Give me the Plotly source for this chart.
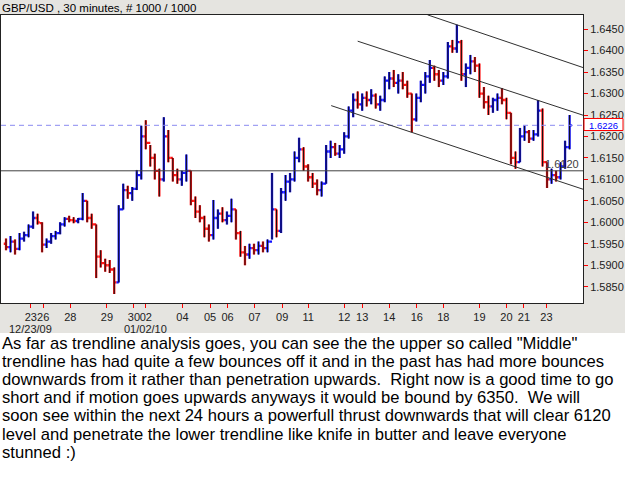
import plotly.graph_objects as go

# ---------------- data ----------------
# Each bar below summarises ~8 thirty-minute bars of GBP/USD
bar_open = [
    1.5950, 1.5942, 1.5955, 1.5938, 1.5962, 1.5970, 1.5990, 1.6010, 1.5998, 1.5948,
    1.5955, 1.5968, 1.5975, 1.5995, 1.6008, 1.6005, 1.6003, 1.6008, 1.6050, 1.6010,
    1.5995, 1.5920, 1.5905, 1.5900, 1.5890, 1.5860, 1.6030, 1.6075, 1.6068, 1.6078,
    1.6110, 1.6200, 1.6185, 1.6150, 1.6120, 1.6100, 1.6200, 1.6150, 1.6110, 1.6100,
    1.6115, 1.6120, 1.6050, 1.6025, 1.6010, 1.5985, 1.5970, 1.6010, 1.6020, 1.6005,
    1.6015, 1.6030, 1.5975, 1.5930, 1.5925, 1.5940, 1.5935, 1.5945, 1.5940, 1.5955,
    1.6030, 1.5980, 1.6070, 1.6095, 1.6100, 1.6150, 1.6170, 1.6130, 1.6105, 1.6090,
    1.6075, 1.6090, 1.6165, 1.6175, 1.6160, 1.6170, 1.6200, 1.6260, 1.6285, 1.6275,
    1.6290, 1.6285, 1.6295, 1.6275, 1.6285, 1.6330, 1.6335, 1.6325, 1.6330, 1.6320,
    1.6300, 1.6240, 1.6290, 1.6320, 1.6340, 1.6360, 1.6345, 1.6330, 1.6340, 1.6410,
    1.6405, 1.6420, 1.6345, 1.6360, 1.6375, 1.6365, 1.6300, 1.6280, 1.6270, 1.6285,
    1.6290, 1.6285, 1.6255, 1.6150, 1.6140, 1.6200, 1.6210, 1.6195, 1.6205, 1.6260,
    1.6140, 1.6100, 1.6110, 1.6105, 1.6130, 1.6175,
]
bar_high = [
    1.5962, 1.5968, 1.5960, 1.5975, 1.5978, 1.5995, 1.6025, 1.6020, 1.6000, 1.5962,
    1.5975, 1.5980, 1.6000, 1.6012, 1.6015, 1.6012, 1.6010, 1.6068, 1.6050, 1.6020,
    1.5995, 1.5935, 1.5915, 1.5912, 1.5895, 1.6040, 1.6090, 1.6085, 1.6082, 1.6122,
    1.6225, 1.6238, 1.6180, 1.6160, 1.6125, 1.6245, 1.6215, 1.6150, 1.6125, 1.6120,
    1.6158, 1.6120, 1.6060, 1.6040, 1.6015, 1.5995, 1.6052, 1.6030, 1.6035, 1.6025,
    1.6055, 1.6030, 1.5980, 1.5945, 1.5950, 1.5950, 1.5955, 1.5955, 1.5960, 1.6115,
    1.6030, 1.6080, 1.6110, 1.6115, 1.6165, 1.6197, 1.6175, 1.6135, 1.6115, 1.6100,
    1.6095, 1.6180, 1.6190, 1.6185, 1.6180, 1.6210, 1.6270, 1.6300, 1.6305, 1.6300,
    1.6305, 1.6310, 1.6300, 1.6295, 1.6340, 1.6350, 1.6355, 1.6345, 1.6350, 1.6330,
    1.6300, 1.6300, 1.6330, 1.6350, 1.6378, 1.6365, 1.6355, 1.6350, 1.6420, 1.6425,
    1.6460, 1.6425, 1.6370, 1.6390, 1.6385, 1.6370, 1.6315, 1.6295, 1.6290, 1.6300,
    1.6313, 1.6290, 1.6255, 1.6165, 1.6220, 1.6225, 1.6215, 1.6215, 1.6285, 1.6265,
    1.6140, 1.6125, 1.6120, 1.6140, 1.6190, 1.6250,
]
bar_low = [
    1.5935, 1.5930, 1.5925, 1.5935, 1.5955, 1.5965, 1.5985, 1.5995, 1.5930, 1.5940,
    1.5950, 1.5960, 1.5972, 1.5990, 1.6000, 1.5998, 1.5998, 1.6005, 1.6000, 1.5985,
    1.5870, 1.5895, 1.5885, 1.5882, 1.5833, 1.5860, 1.6030, 1.6055, 1.6050, 1.6075,
    1.6100, 1.6170, 1.6130, 1.6100, 1.6060, 1.6095, 1.6140, 1.6095, 1.6090, 1.6085,
    1.6095, 1.6040, 1.6010, 1.6000, 1.5965, 1.5955, 1.5960, 1.5985, 1.6000, 1.5995,
    1.6000, 1.5960, 1.5920, 1.5900, 1.5915, 1.5925, 1.5925, 1.5930, 1.5930, 1.5960,
    1.5965, 1.5975, 1.6050, 1.6070, 1.6095, 1.6140, 1.6120, 1.6095, 1.6080, 1.6063,
    1.6060, 1.6090, 1.6150, 1.6155, 1.6150, 1.6160, 1.6195, 1.6245, 1.6265, 1.6260,
    1.6270, 1.6275, 1.6265, 1.6260, 1.6280, 1.6310, 1.6315, 1.6300, 1.6310, 1.6290,
    1.6210, 1.6235, 1.6280, 1.6300, 1.6325, 1.6330, 1.6315, 1.6320, 1.6335, 1.6395,
    1.6395, 1.6330, 1.6315, 1.6345, 1.6350, 1.6290, 1.6265, 1.6250, 1.6255, 1.6260,
    1.6275, 1.6240, 1.6135, 1.6125, 1.6140, 1.6190, 1.6185, 1.6190, 1.6200, 1.6130,
    1.6080, 1.6090, 1.6095, 1.6100, 1.6125, 1.6170,
]
bar_close = [
    1.5942, 1.5955, 1.5938, 1.5962, 1.5970, 1.5990, 1.6010, 1.6000, 1.5948, 1.5955,
    1.5968, 1.5975, 1.5995, 1.6008, 1.6005, 1.6003, 1.6008, 1.6050, 1.6010, 1.5995,
    1.5920, 1.5905, 1.5900, 1.5890, 1.5860, 1.6030, 1.6075, 1.6068, 1.6078, 1.6110,
    1.6200, 1.6185, 1.6150, 1.6120, 1.6100, 1.6200, 1.6150, 1.6110, 1.6100, 1.6115,
    1.6120, 1.6050, 1.6025, 1.6010, 1.5985, 1.5970, 1.6010, 1.6020, 1.6005, 1.6015,
    1.6030, 1.5975, 1.5930, 1.5925, 1.5940, 1.5935, 1.5945, 1.5940, 1.5955, 1.6030,
    1.5980, 1.6070, 1.6095, 1.6100, 1.6150, 1.6170, 1.6130, 1.6105, 1.6090, 1.6075,
    1.6090, 1.6165, 1.6175, 1.6160, 1.6170, 1.6200, 1.6260, 1.6285, 1.6275, 1.6290,
    1.6285, 1.6295, 1.6275, 1.6285, 1.6330, 1.6335, 1.6325, 1.6330, 1.6320, 1.6300,
    1.6240, 1.6290, 1.6320, 1.6340, 1.6360, 1.6345, 1.6330, 1.6340, 1.6410, 1.6405,
    1.6420, 1.6345, 1.6360, 1.6375, 1.6365, 1.6300, 1.6280, 1.6270, 1.6285, 1.6290,
    1.6285, 1.6255, 1.6150, 1.6140, 1.6200, 1.6210, 1.6195, 1.6205, 1.6260, 1.6140,
    1.6100, 1.6110, 1.6105, 1.6130, 1.6175, 1.6226,
]
bars_per_point = 8  # thirty-minute bars summarised by each entry

# x-axis day labels and the bar number where each sits
day_labels = ["23", "26", "28", "29", "30", "02", "04", "05", "06", "07", "09",
              "11", "12", "13", "14", "16", "18", "19", "20", "21", "23"]
day_bar_index = [44, 66, 114, 179, 227, 248, 313, 362, 393, 441, 490,
                 536, 600, 632, 680, 729, 776, 840, 888, 919, 959]
date_labels = ["12/23/09", "01/02/10"]
date_bar_index = [44, 248]

price_ticks = [1.5850, 1.5900, 1.5950, 1.6000, 1.6050, 1.6100, 1.6150,
               1.6200, 1.6250, 1.6300, 1.6350, 1.6400, 1.6450]

support_level = 1.6120
last_price = 1.6226

# three parallel channel lines: (bar index, price) start / end
channel_upper = [(748, 1.64833), (1024, 1.63605)]
channel_middle = [(624, 1.64220), (1024, 1.62495)]
channel_lower = [(577, 1.62719), (1024, 1.60770)]

title_text = "GBP/USD , 30 minutes, # 1000 / 1000"
comment_lines = [
    'As far as trendline analysis goes, you can see the the upper so called "Middle"',
    "trendline has had quite a few bounces off it and in the past has had more bounces",
    "downwards from it rather than penetration upwards. \u00a0Right now is a good time to go",
    "short and if motion goes upwards anyways it would be bound by 6350. \u00a0We will",
    "soon see within the next 24 hours a powerfull thrust downwards that will clear 6120",
    "level and penetrate the lower trendline like knife in butter and leave everyone",
    "stunned :)",
]

# ---------------- layout geometry ----------------
W, H = 625, 477
L, R, T, B = 1, 42, 15, 174          # margins -> plot area x 1..583, y 15..303
PW, PH = W - L - R, H - T - B


def px_x(px):
    return (px - L) / PW


def px_y(py):
    return (H - B - py) / PH


FONT = "Arial, 'Liberation Sans', sans-serif"
GRAY = "#E5E4E0"

bar_x = [i * bars_per_point for i in range(len(bar_close))]

fig = go.Figure()
# coloured bars (blue = up, red = down)
fig.add_trace(go.Ohlc(
    x=bar_x, open=bar_open, high=bar_high, low=bar_low, close=bar_close,
    increasing=dict(line=dict(color="#1010FF", width=2.3)),
    decreasing=dict(line=dict(color="#FF1010", width=2.3)),
    tickwidth=0.5, hoverinfo="skip", showlegend=False,
))
# thin dark high-low cores on top, as in the original dense bar chart
fig.add_trace(go.Ohlc(
    x=bar_x, open=bar_open, high=bar_high, low=bar_low, close=bar_close,
    increasing=dict(line=dict(color="#101010", width=1)),
    decreasing=dict(line=dict(color="#101010", width=1)),
    tickwidth=0, hoverinfo="skip", showlegend=False,
))

shapes = []
# grey dithered frame around the chart (avoid the plot area)
shapes.append(dict(type="rect", xref="paper", yref="paper", layer="below",
                   x0=px_x(0), x1=px_x(W), y0=px_y(T), y1=px_y(0),
                   fillcolor=GRAY, line_width=0))
shapes.append(dict(type="rect", xref="paper", yref="paper", layer="below",
                   x0=px_x(583), x1=px_x(W), y0=px_y(333), y1=px_y(0),
                   fillcolor=GRAY, line_width=0))
shapes.append(dict(type="rect", xref="paper", yref="paper", layer="below",
                   x0=px_x(0), x1=px_x(W), y0=px_y(333), y1=px_y(303),
                   fillcolor=GRAY, line_width=0))
# last price dashed line
shapes.append(dict(type="line", xref="paper", yref="y", x0=0, x1=1,
                   y0=last_price, y1=last_price,
                   line=dict(color="#8A8AF0", width=1, dash="5px,4px")))
# support level
shapes.append(dict(type="line", xref="paper", yref="y", x0=0, x1=1,
                   y0=support_level, y1=support_level,
                   line=dict(color="#404040", width=1)))
for (x0, y0), (x1, y1) in (channel_upper, channel_middle, channel_lower):
    shapes.append(dict(type="line", xref="x", yref="y", x0=x0, y0=y0, x1=x1, y1=y1,
                       line=dict(color="#303030", width=1)))
# red box of the last-price marker on the price scale
shapes.append(dict(type="rect", xref="paper", yref="paper", layer="above",
                   x0=px_x(584), x1=px_x(623), y0=px_y(130.5), y1=px_y(118.5),
                   fillcolor="white", line=dict(color="#FF0000", width=1)))

annotations = []
annotations.append(dict(text=title_text, xref="paper", yref="paper",
                        x=px_x(0), y=px_y(8), xanchor="left", yanchor="middle",
                        showarrow=False, font=dict(family=FONT, size=11.5, color="black")))
for lab, idx in zip(date_labels, date_bar_index):
    annotations.append(dict(text=lab, xref="x", yref="paper", x=idx, y=px_y(329),
                            xanchor="center", yanchor="middle", showarrow=False,
                            font=dict(family=FONT, size=11, color="#222")))
annotations.append(dict(text=f"{last_price:.4f}", xref="paper", yref="paper",
                        x=px_x(603.5), y=px_y(125.5), xanchor="center", yanchor="middle",
                        showarrow=False, borderpad=0, borderwidth=0,
                        font=dict(family=FONT, size=9.5, color="#0000FF")))
annotations.append(dict(text=f"{support_level:.4f}", xref="paper", yref="y",
                        x=px_x(581), y=support_level, xanchor="right", yanchor="bottom",
                        showarrow=False, yshift=-1,
                        font=dict(family=FONT, size=11, color="#404040")))
for k, line in enumerate(comment_lines):
    annotations.append(dict(text=line, xref="paper", yref="paper",
                            x=px_x(0), y=px_y(343 + k * 18.2), xanchor="left",
                            yanchor="middle", showarrow=False,
                            font=dict(family=FONT, size=16.6, color="black")))

fig.update_layout(
    width=W, height=H, margin=dict(l=L, r=R, t=T, b=B, pad=0),
    paper_bgcolor="white", plot_bgcolor="white",
    showlegend=False, shapes=shapes, annotations=annotations,
    font=dict(family=FONT, size=11, color="black"),
    xaxis=dict(range=[-8.9, 1023.8], rangeslider=dict(visible=False),
               tickmode="array", tickvals=day_bar_index, ticktext=day_labels,
               tickangle=0, ticks="outside", ticklen=4, tickcolor="#FF0000", tickwidth=1,
               showgrid=False, zeroline=False, showline=True, linecolor="#222",
               linewidth=1, mirror=True, tickfont=dict(family=FONT, size=11, color="#222")),
    yaxis=dict(range=[1.5812, 1.6483], side="right", tickmode="array",
               tickvals=price_ticks, tickformat=".4f",
               ticks="outside", ticklen=4, tickcolor="#FF0000", tickwidth=1,
               showgrid=False, zeroline=False, showline=True, linecolor="#222",
               linewidth=1, mirror=True, tickfont=dict(family=FONT, size=11, color="#222")),
)

fig.write_html("out.html")
